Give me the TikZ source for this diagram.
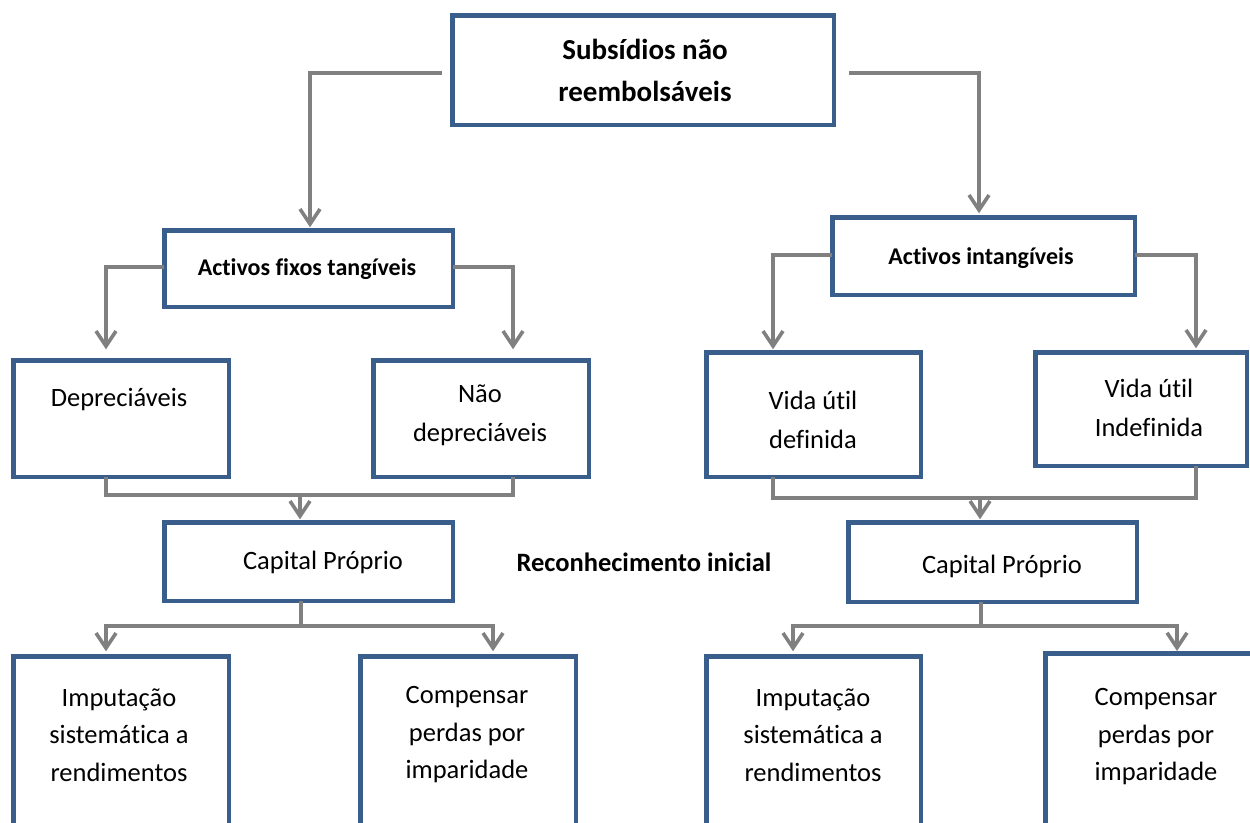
\documentclass[tikz,border=0pt]{standalone}
\usepackage{fontspec}
\setmainfont{Carlito}[Ligatures=NoCommon]
\usetikzlibrary{arrows.meta}
\definecolor{boxblue}{HTML}{3A5E8C}
\definecolor{linegray}{HTML}{808080}
\begin{document}
\begin{tikzpicture}[x=1pt,y=-1pt,
  box/.style={draw=boxblue, line width=4.5pt, inner sep=0pt, outer sep=0pt},
  conn/.style={draw=linegray, line width=3.6pt},
  arr/.style={conn, -{Straight Barb[length=15pt,width=20pt]}},
  txt/.style={inner sep=0pt, align=center, font=\fontsize{26.5}{37.5}\selectfont},
  txttwo/.style={inner sep=0pt, align=center, font=\fontsize{26.5}{39}\selectfont},
  btxt/.style={inner sep=0pt, align=center, font=\bfseries\fontsize{24}{30}\selectfont}]
\useasboundingbox (0,0) rectangle (1250,822);
\clip (0,0) rectangle (1250,822);
\fill[white] (0,0) rectangle (1250,822);

% boxes
\node[box, minimum width=381.5pt, minimum height=109.5pt] (top) at (643,70) {};
\node[box, minimum width=288.5pt, minimum height=76.5pt] (AFT) at (308.5,268.5) {};
\node[box, minimum width=302.5pt, minimum height=77.5pt] (AI) at (983.5,256) {};
\node[box, minimum width=215.5pt, minimum height=116.5pt] (Dep) at (121,418.5) {};
\node[box, minimum width=215.5pt, minimum height=116.5pt] (NDep) at (481,418.5) {};
\node[box, minimum width=214.5pt, minimum height=124.5pt] (VUD) at (813.5,414.5) {};
\node[box, minimum width=211.5pt, minimum height=113.5pt] (VUI) at (1141,409) {};
\node[box, minimum width=288.5pt, minimum height=78.5pt] (CP1) at (308.5,561.5) {};
\node[box, minimum width=288.5pt, minimum height=79.5pt] (CP2) at (992.5,562) {};
\node[box, minimum width=215.5pt, minimum height=201.5pt] (Imp1) at (121,757) {};
\node[box, minimum width=215.5pt, minimum height=201.5pt] (Comp1) at (468,757) {};
\node[box, minimum width=214.5pt, minimum height=201.5pt] (Imp2) at (813.5,757) {};
\node[box, minimum width=221.5pt, minimum height=204.5pt] (Comp2) at (1156,755.5) {};

% texts
\node[inner sep=0pt, align=center, font=\bfseries\fontsize{29}{42}\selectfont] (tTop) at (645,70) {Subsídios não\\reembolsáveis};
\node[btxt] (tAFT) at (307,269) {Activos fixos tangíveis};
\node[btxt] (tAI) at (981,258) {Activos intangíveis};
\node[txt] (tDep) at (119,400) {Depreciáveis};
\node[txttwo] (tNDep) at (480,415) {Não\\depreciáveis};
\node[txttwo] (tVUD) at (813,420) {Vida útil\\definida};
\node[txttwo] (tVUI) at (1149,408) {Vida útil\\Indefinida};
\node[txt] (tCP1) at (323,562) {Capital Próprio};
\node[txt] (tCP2) at (1002,566) {Capital Próprio};
\node[inner sep=0pt, font=\bfseries\fontsize{26.5}{30}\selectfont] (tRec) at (644,562) {Reconhecimento inicial};
\node[txt] (tImp1) at (119,735) {Imputação\\sistemática a\\rendimentos};
\node[txt] (tComp1) at (467,735) {Compensar\\perdas por\\imparidade};
\node[txt] (tImp2) at (813,735) {Imputação\\sistemática a\\rendimentos};
\node[txt] (tComp2) at (1156,737) {Compensar\\perdas por\\imparidade};

% connectors from top
\draw[arr] ([xshift=-10pt,yshift=-3pt]top.west) -| ([xshift=1.5pt,yshift=3pt]AFT.north);
\draw[arr] ([xshift=15pt,yshift=-3pt]top.east) -| ([xshift=-4.5pt,yshift=4pt]AI.north);

% level 2 to level 3
\draw[arr] ([yshift=1.5pt]AFT.west) -| ([xshift=-15pt,yshift=11pt]Dep.north);
\draw[arr] ([yshift=1.5pt]AFT.east) -| ([xshift=32pt,yshift=11pt]NDep.north);
\draw[arr] ([yshift=1pt]AI.west) -| ([xshift=-40.5pt,yshift=3pt]VUD.north);
\draw[arr] ([yshift=1pt]AI.east) -| ([xshift=55pt,yshift=4pt]VUI.north);

% merge to capital proprio
\draw[conn] ([xshift=-15pt]Dep.south) -- ([xshift=-15pt,yshift=-18pt]Dep.south) -| ([xshift=32pt]NDep.south);
\draw[arr] ([xshift=-8.5pt,yshift=27pt]CP1.north) -- ([xshift=-8.5pt,yshift=3pt]CP1.north);
\draw[conn] ([xshift=-40.5pt]VUD.south) -- ([xshift=-40.5pt,yshift=-21pt]VUD.south) -| ([xshift=55pt]VUI.south);
\draw[arr] ([xshift=-12.5pt,yshift=24.25pt]CP2.north) -- ([xshift=-12.5pt,yshift=3pt]CP2.north);

% capital proprio to bottom boxes
\draw[conn] ([xshift=-7.5pt]CP1.south) -- ([xshift=-7.5pt,yshift=-25pt]CP1.south);
\draw[arr] ([xshift=-7.5pt,yshift=-25pt]CP1.south) -| ([xshift=-15pt,yshift=5pt]Imp1.north);
\draw[arr] ([xshift=-7.5pt,yshift=-25pt]CP1.south) -| ([xshift=25pt,yshift=5pt]Comp1.north);
\draw[conn] ([xshift=-11.5pt]CP2.south) -- ([xshift=-11.5pt,yshift=-24.25pt]CP2.south);
\draw[arr] ([xshift=-11.5pt,yshift=-24.25pt]CP2.south) -| ([xshift=-20.5pt,yshift=5pt]Imp2.north);
\draw[arr] ([xshift=-11.5pt,yshift=-24.25pt]CP2.south) -| ([xshift=21pt,yshift=2.25pt]Comp2.north);
\end{tikzpicture}
\end{document}
